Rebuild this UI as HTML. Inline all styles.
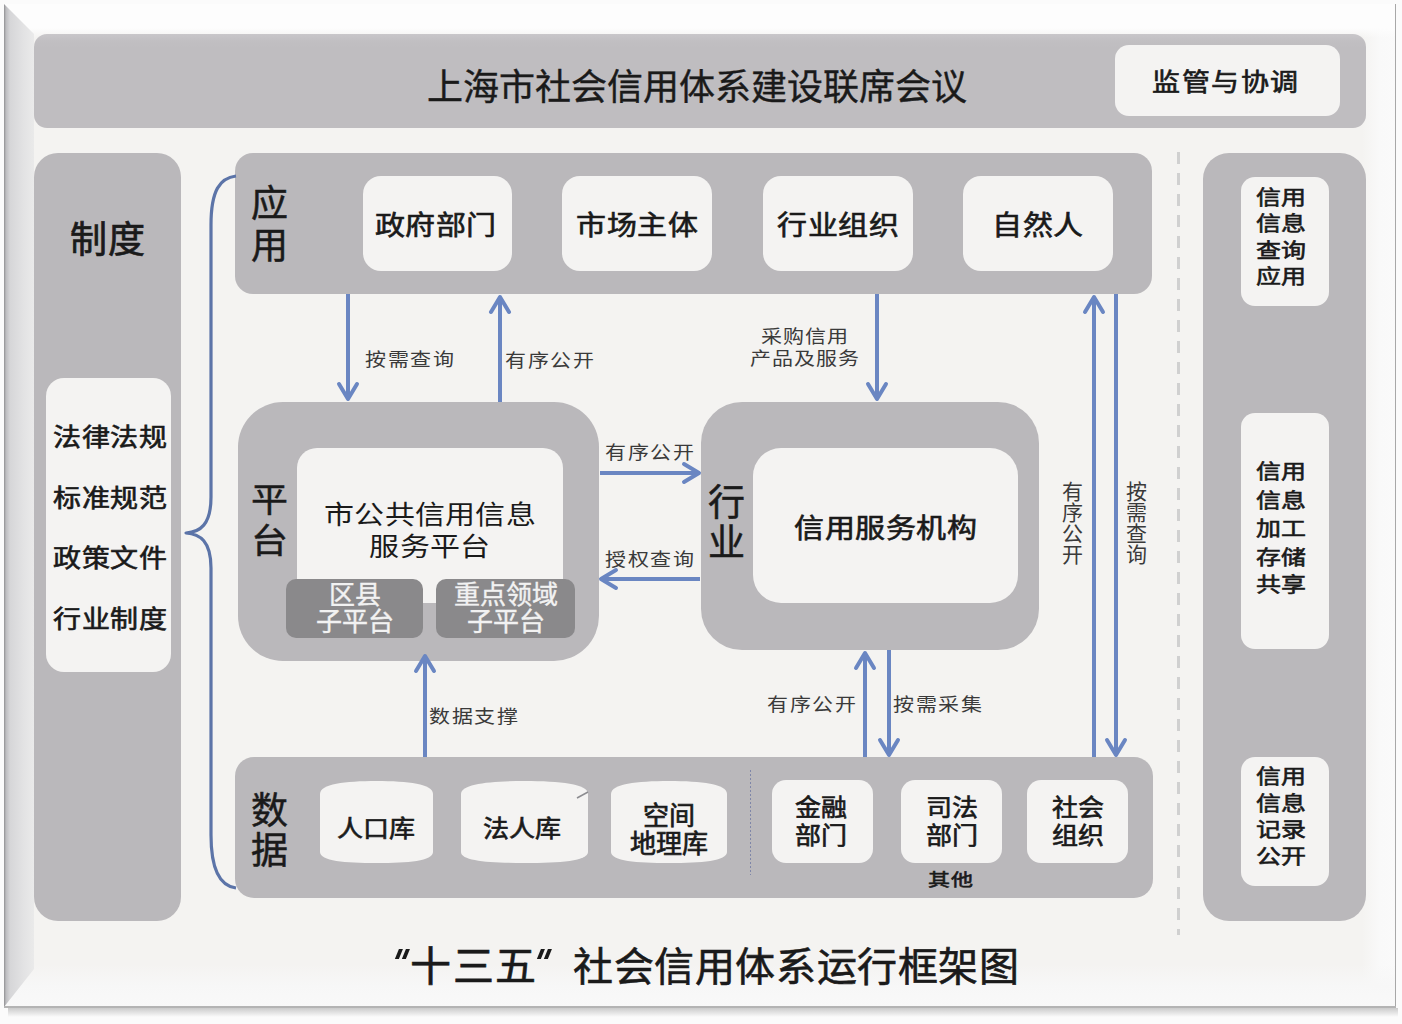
<!DOCTYPE html>
<html lang="zh-CN">
<head>
<meta charset="utf-8">
<style>
html,body{margin:0;padding:0;}
body{width:1402px;height:1024px;position:relative;overflow:hidden;background:#fbfbfb;font-family:"Liberation Sans",sans-serif;color:#1a1a1a;}
.a{position:absolute;box-sizing:border-box;}
.g{background:#bab8bb;}
.w{background:#f4f3f2;}
.t{position:absolute;white-space:nowrap;line-height:1;}
.b{font-weight:normal;-webkit-text-stroke:0.7px #1a1a1a;}
.s{-webkit-text-stroke:0.5px #1a1a1a;}
.c{text-align:center;}
</style>
</head>
<body>
<!-- frame -->
<div class="a" style="left:4px;top:4px;width:1392px;height:1003px;background:#f4f3f1;"></div>
<div class="a" style="left:1340px;top:4px;width:56px;height:1003px;background:linear-gradient(90deg,rgba(250,250,250,0) 0,rgba(250,250,250,0) 22px,#f9f9f9 40px,#fafafa 56px);"></div>
<div class="a" style="left:4px;top:950px;width:1392px;height:57px;background:linear-gradient(180deg,rgba(248,248,248,0) 0,rgba(248,248,248,0) 14px,#f7f7f7 36px,#f9f9f9 57px);"></div>
<div class="a" style="left:4px;top:4px;width:1392px;height:34px;background:linear-gradient(180deg,#fdfdfd 0,#fdfdfd 24px,rgba(253,253,253,0) 34px);clip-path:polygon(0 0,1392px 0,1392px 34px,0 34px);"></div>
<div class="a" style="left:4px;top:4px;width:30px;height:1003px;background:linear-gradient(90deg,#909092 0,#bdbdc0 2px,#d6d6d8 6px,#e3e3e4 20px,#eaeaea 30px);clip-path:polygon(0 0,30px 30px,30px 965px,0 1003px);"></div>
<div class="a" style="left:1395px;top:4px;width:1px;height:1003px;background:#a8a8a8;"></div>
<div class="a" style="left:4px;top:1006px;width:1392px;height:2px;background:#b4b4b4;"></div>
<div class="a" style="left:8px;top:1008px;width:1390px;height:9px;background:linear-gradient(180deg,#cbcbcb,#fbfbfb);"></div>

<!-- top banner -->
<div class="a" style="left:34px;top:34px;width:1332px;height:94px;border-radius:13px;background:linear-gradient(180deg,#c9c7ca 0,#c1bfc2 7px,#bfbdc0 14px,#bfbdc0 100%);"></div>
<div class="t" style="left:427px;top:70px;font-size:36px;-webkit-text-stroke:0.4px #1a1a1a;">上海市社会信用体系建设联席会议</div>
<div class="a w" style="left:1115px;top:45px;width:225px;height:71px;border-radius:14px;"></div>
<div class="t b" style="transform:scaleY(0.9);left:1152px;top:69px;font-size:28px;letter-spacing:1.5px;">监管与协调</div>

<!-- left column -->
<div class="a g" style="left:34px;top:153px;width:147px;height:768px;border-radius:24px;"></div>
<div class="t b" style="left:70px;top:222px;font-size:37px;letter-spacing:1px;">制度</div>
<div class="a w" style="left:46px;top:378px;width:125px;height:294px;border-radius:18px;"></div>
<div class="t b" style="transform:scaleY(0.89);transform-origin:50% 0;left:53px;top:408px;font-size:28px;line-height:68px;letter-spacing:0.5px;">法律法规<br>标准规范<br>政策文件<br>行业制度</div>

<!-- right column -->
<div class="a g" style="left:1203px;top:153px;width:163px;height:768px;border-radius:26px;"></div>
<div class="a w" style="left:1241px;top:177px;width:88px;height:129px;border-radius:14px;"></div>
<div class="t b" style="transform:scaleY(0.82);transform-origin:50% 0;left:1256px;top:184px;font-size:25px;line-height:32.3px;">信用<br>信息<br>查询<br>应用</div>
<div class="a w" style="left:1241px;top:413px;width:88px;height:236px;border-radius:14px;"></div>
<div class="t b" style="transform:scaleY(0.82);transform-origin:50% 0;left:1256px;top:458px;font-size:25px;line-height:34.5px;">信用<br>信息<br>加工<br>存储<br>共享</div>
<div class="a w" style="left:1241px;top:757px;width:88px;height:129px;border-radius:14px;"></div>
<div class="t b" style="transform:scaleY(0.82);transform-origin:50% 0;left:1256px;top:763px;font-size:25px;line-height:32.6px;">信用<br>信息<br>记录<br>公开</div>

<!-- dashed line -->
<div class="a" style="left:1177px;top:152px;width:2.5px;height:783px;background:repeating-linear-gradient(180deg,#d0d0d0 0,#d0d0d0 12px,transparent 12px,transparent 21px);"></div>

<!-- app row -->
<div class="a g" style="left:235px;top:153px;width:917px;height:141px;border-radius:18px;"></div>
<div class="t s" style="left:251px;top:184px;font-size:37px;line-height:42px;">应<br>用</div>
<div class="a w" style="left:363px;top:176px;width:149px;height:95px;border-radius:18px;"></div>
<div class="a w" style="left:562px;top:176px;width:150px;height:95px;border-radius:18px;"></div>
<div class="a w" style="left:763px;top:176px;width:150px;height:95px;border-radius:18px;"></div>
<div class="a w" style="left:963px;top:176px;width:150px;height:95px;border-radius:18px;"></div>
<div class="t b c" style="transform:scaleY(0.9);left:361px;top:211px;width:149px;font-size:30px;letter-spacing:0.5px;">政府部门</div>
<div class="t b c" style="transform:scaleY(0.9);left:562px;top:211px;width:150px;font-size:30px;letter-spacing:0.5px;">市场主体</div>
<div class="t b c" style="transform:scaleY(0.9);left:763px;top:211px;width:150px;font-size:30px;letter-spacing:0.5px;">行业组织</div>
<div class="t b c" style="transform:scaleY(0.9);left:963px;top:211px;width:150px;font-size:30px;letter-spacing:0.5px;">自然人</div>

<!-- platform -->
<div class="a g" style="left:238px;top:402px;width:361px;height:259px;border-radius:45px;"></div>
<div class="a w" style="left:297px;top:448px;width:266px;height:155px;border-radius:20px;"></div>
<div class="t s" style="transform:scaleY(0.92);transform-origin:50% 0;left:251px;top:481px;font-size:37px;line-height:44px;">平<br>台</div>
<div class="t c" style="transform:scaleY(0.87);transform-origin:50% 0;left:297px;top:499px;width:266px;font-size:30px;line-height:37px;letter-spacing:0.3px;">市公共信用信息<br>服务平台</div>
<div class="a" style="left:286px;top:579px;width:137px;height:59px;border-radius:10px;background:#8a898b;"></div>
<div class="a" style="left:436px;top:579px;width:139px;height:59px;border-radius:10px;background:#8a898b;"></div>
<div class="t c" style="left:286px;top:582px;width:137px;font-size:26px;line-height:27px;color:#f2f2f2;-webkit-text-stroke:0.4px #f2f2f2;">区县<br>子平台</div>
<div class="t c" style="left:436px;top:582px;width:139px;font-size:26px;line-height:27px;color:#f2f2f2;-webkit-text-stroke:0.4px #f2f2f2;">重点领域<br>子平台</div>

<!-- industry -->
<div class="a g" style="left:701px;top:402px;width:338px;height:248px;border-radius:41px;"></div>
<div class="a w" style="left:753px;top:448px;width:265px;height:155px;border-radius:28px;"></div>
<div class="t s" style="left:708px;top:484px;font-size:37px;line-height:40px;">行<br>业</div>
<div class="t b c" style="transform:scaleY(0.9);left:753px;top:514px;width:265px;font-size:30px;letter-spacing:0.5px;">信用服务机构</div>

<!-- data row -->
<div class="a g" style="left:235px;top:757px;width:918px;height:141px;border-radius:19px;"></div>
<div class="t s" style="left:251px;top:792px;font-size:37px;line-height:40px;">数<br>据</div>
<div class="a" style="left:750px;top:770px;width:1px;height:105px;background:repeating-linear-gradient(180deg,#7f86a8 0,#7f86a8 2px,transparent 2px,transparent 4px);"></div>
<div class="a w" style="left:772px;top:780px;width:101px;height:83px;border-radius:14px;"></div>
<div class="a w" style="left:901px;top:780px;width:101px;height:83px;border-radius:14px;"></div>
<div class="a w" style="left:1027px;top:780px;width:101px;height:83px;border-radius:14px;"></div>
<div class="t b c" style="transform:scaleY(0.9);transform-origin:50% 0;left:770px;top:794px;width:101px;font-size:26px;line-height:31.4px;">金融<br>部门</div>
<div class="t b c" style="transform:scaleY(0.9);transform-origin:50% 0;left:901px;top:794px;width:101px;font-size:26px;line-height:31.4px;">司法<br>部门</div>
<div class="t b c" style="transform:scaleY(0.9);transform-origin:50% 0;left:1027px;top:794px;width:101px;font-size:26px;line-height:31.4px;">社会<br>组织</div>
<div class="t b" style="transform:scaleY(0.8);left:928px;top:869px;font-size:22px;letter-spacing:1px;">其他</div>

<!-- cylinders -->
<svg class="a" style="left:0;top:0;" width="1402" height="1024">
  <path d="M320 794 C320 784 344.86 781 376.5 781 C408.14 781 433 784 433 794 L433 852 C433 861 408.14 863 376.5 863 C344.86 863 320 861 320 852 Z" fill="#f4f3f2"/>
  <path d="M461 794 C461 784 488.94 781 524.5 781 C560.06 781 588 784 588 794 L588 852 C588 861 560.06 863 524.5 863 C488.94 863 461 861 461 852 Z" fill="#f4f3f2"/>
  <path d="M611 794 C611 784 636.52 781 669.0 781 C701.48 781 727 784 727 794 L727 852 C727 861 701.48 863 669.0 863 C636.52 863 611 861 611 852 Z" fill="#f4f3f2"/>
  <path d="M577 798 L588 792" stroke="#8c8c90" stroke-width="1.5" fill="none"/>
</svg>
<div class="t b c" style="transform:scaleY(0.9);left:319px;top:816px;width:114px;font-size:26px;">人口库</div>
<div class="t b c" style="transform:scaleY(0.9);left:458px;top:816px;width:127px;font-size:26px;">法人库</div>
<div class="t b c" style="left:611px;top:802px;width:116px;font-size:26px;line-height:28px;">空间<br>地理库</div>

<!-- arrows & brace -->
<svg class="a" style="left:0;top:0;" width="1402" height="1024" fill="none" stroke="#6a86c2" stroke-width="4" stroke-linecap="butt" stroke-linejoin="round">
  <!-- brace -->
  <path d="M236 176 C220 178 211 190 211 225 L211 497 C211 525 200 532 186 533 C200 534 211 541 211 568 L211 835 C211 870 220 886 236 888" stroke="#5c74a8" stroke-width="3.2"/>
  <path d="M348 294 L348 397"/><path d="M339 384 L348 399 L357 384" stroke-linecap="round"/>
  <path d="M500 402 L500 299"/><path d="M491 312 L500 297 L509 312" stroke-linecap="round"/>
  <path d="M877 294 L877 397"/><path d="M868 384 L877 399 L886 384" stroke-linecap="round"/>
  <path d="M600 473 L697 473"/><path d="M684 464 L699 473 L684 482" stroke-linecap="round"/>
  <path d="M700 579 L603 579"/><path d="M616 570 L601 579 L616 588" stroke-linecap="round"/>
  <path d="M425 757 L425 658"/><path d="M416 671 L425 656 L434 671" stroke-linecap="round"/>
  <path d="M865 757 L865 655"/><path d="M856 668 L865 653 L874 668" stroke-linecap="round"/>
  <path d="M889 650 L889 753"/><path d="M880 740 L889 755 L898 740" stroke-linecap="round"/>
  <path d="M1094 757 L1094 299"/><path d="M1085 312 L1094 297 L1103 312" stroke-linecap="round"/>
  <path d="M1116 294 L1116 753"/><path d="M1107 740 L1116 755 L1125 740" stroke-linecap="round"/>
</svg>

<!-- arrow labels -->
<div class="t" style="left:365px;top:349px;font-size:21px;letter-spacing:1.5px;color:#3a3a3a;transform:scaleY(0.88);">按需查询</div>
<div class="t" style="left:505px;top:350px;font-size:21px;letter-spacing:1.5px;color:#3a3a3a;transform:scaleY(0.88);">有序公开</div>
<div class="t c" style="left:745px;top:322px;width:120px;font-size:21px;line-height:25px;letter-spacing:1px;color:#3a3a3a;transform:scaleY(0.88);">采购信用<br>产品及服务</div>
<div class="t" style="left:605px;top:442px;font-size:21px;letter-spacing:1.5px;color:#3a3a3a;transform:scaleY(0.88);">有序公开</div>
<div class="t" style="left:605px;top:549px;font-size:21px;letter-spacing:1.5px;color:#3a3a3a;transform:scaleY(0.88);">授权查询</div>
<div class="t" style="left:429px;top:706px;font-size:21px;letter-spacing:1.5px;color:#3a3a3a;transform:scaleY(0.88);">数据支撑</div>
<div class="t" style="left:767px;top:694px;font-size:21px;letter-spacing:1.5px;color:#3a3a3a;transform:scaleY(0.88);">有序公开</div>
<div class="t" style="left:893px;top:694px;font-size:21px;letter-spacing:1.5px;color:#3a3a3a;transform:scaleY(0.88);">按需采集</div>
<div class="t" style="left:1062px;top:481px;font-size:21px;line-height:21px;color:#3a3a3a;">有<br>序<br>公<br>开</div>
<div class="t" style="left:1126px;top:481px;font-size:21px;line-height:21px;color:#3a3a3a;">按<br>需<br>查<br>询</div>

<!-- title -->
<div class="a" style="left:397px;top:949px;width:3.5px;height:9.5px;background:#1a1a1a;transform:skewX(-22deg);"></div><div class="a" style="left:404px;top:949px;width:3.5px;height:9.5px;background:#1a1a1a;transform:skewX(-22deg);"></div>
<div class="t" style="left:410px;top:947px;font-size:41px;letter-spacing:1.5px;-webkit-text-stroke:0.6px #1a1a1a;">十三五</div>
<div class="a" style="left:539px;top:949px;width:3.5px;height:9.5px;background:#1a1a1a;transform:skewX(-22deg);"></div><div class="a" style="left:546px;top:949px;width:3.5px;height:9.5px;background:#1a1a1a;transform:skewX(-22deg);"></div>
<div class="t" style="left:573px;top:947px;font-size:40px;letter-spacing:0.6px;-webkit-text-stroke:0.6px #1a1a1a;">社会信用体系运行框架图</div>
</body>
</html>
